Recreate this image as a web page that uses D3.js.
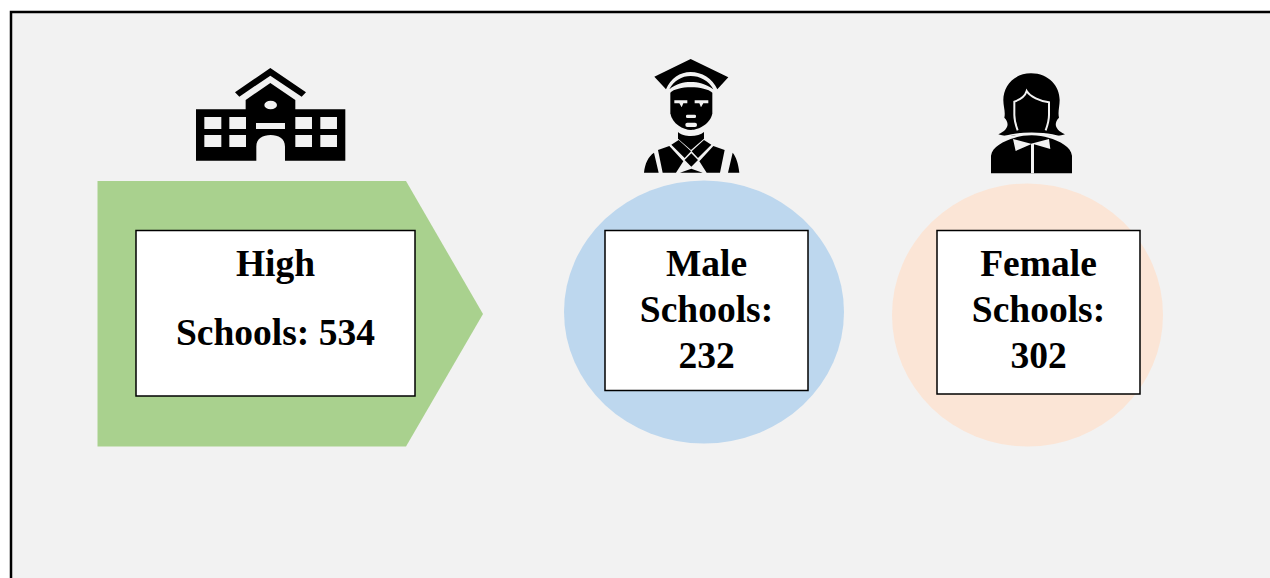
<!DOCTYPE html>
<html>
<head>
<meta charset="utf-8">
<script src="https://cdn.jsdelivr.net/npm/d3@7"></script>
<style>
  html, body { margin: 0; padding: 0; background: #fff; overflow: hidden; }
  text { font-family: "Liberation Serif", serif; font-weight: bold; fill: #000; }
</style>
</head>
<body>
<script>
const width = 1270;
const height = 578;
const bg = '#f2f2f2';

// what the graphic says
const categories = ['High Schools', 'Male Schools', 'Female Schools'];
const counts = [534, 232, 302];
const labelLines = [
  ['High', `Schools: ${counts[0]}`],
  ['Male', 'Schools:', `${counts[1]}`],
  ['Female', 'Schools:', `${counts[2]}`]
];

const svg = d3
  .select('body')
  .append('svg')
  .attr('width', width)
  .attr('height', height)
  .style('display', 'block');

// frame runs off the right and bottom of the page
svg
  .append('rect')
  .attr('x', 11)
  .attr('y', 12)
  .attr('width', width + 20)
  .attr('height', height + 20)
  .attr('fill', bg)
  .attr('stroke', '#000')
  .attr('stroke-width', 2.5);

// backing shapes
const line = d3.line();
svg
  .append('path')
  .attr('d', line([[97.5, 181], [406, 181], [483, 314], [406, 446.5], [97.5, 446.5]]) + 'Z')
  .attr('fill', '#a9d18e');

svg
  .append('ellipse')
  .attr('cx', 704)
  .attr('cy', 312)
  .attr('rx', 140)
  .attr('ry', 131.5)
  .attr('fill', '#bdd7ee');

svg
  .append('ellipse')
  .attr('cx', 1027.5)
  .attr('cy', 315)
  .attr('rx', 135.5)
  .attr('ry', 131.5)
  .attr('fill', '#fbe5d6');

// label boxes
const boxes = [
  { x: 136, y: 230.5, w: 279, h: 165.5, cx: 275.5, base: [276, 345] },
  { x: 605, y: 230.5, w: 203, h: 160, cx: 706.5, base: [276, 322, 368] },
  { x: 937, y: 230.5, w: 203, h: 163.5, cx: 1038.5, base: [276, 322, 368] }
];

const box = svg
  .selectAll('.box')
  .data(categories)
  .enter()
  .append('g')
  .attr('class', 'box');

box
  .append('rect')
  .attr('x', (d, i) => boxes[i].x)
  .attr('y', (d, i) => boxes[i].y)
  .attr('width', (d, i) => boxes[i].w)
  .attr('height', (d, i) => boxes[i].h)
  .attr('fill', '#fff')
  .attr('stroke', '#000')
  .attr('stroke-width', 1.5);

box.each(function(d, i) {
  d3.select(this)
    .selectAll('text')
    .data(labelLines[i])
    .enter()
    .append('text')
    .attr('x', boxes[i].cx)
    .attr('y', (t, j) => boxes[i].base[j])
    .attr('text-anchor', 'middle')
    .attr('font-size', 37.5)
    .text((t) => t);
});

// icons, traced at 3x and scaled down
const school = svg.append('g').attr('transform', 'translate(180,55) scale(0.3333)');
school
  .append('path')
  .attr('d', 'M165,112 L271,39 L378,112 L365,125 L271,62 L178,125 Z');
school
  .append('path')
  .attr('fill-rule', 'evenodd')
  .attr('d', 'M48,163 H197 V135 L271,84 L346,135 V163 H496 V317 H315 V275 C315,250 295,240 272,240 C249,240 229,250 229,275 V317 H48 Z'
    + 'M73,186 H124 V222 H73 Z M148,186 H198 V222 H148 Z M73,240 H124 V276 H73 Z M148,240 H198 V276 H148 Z'
    + 'M346,186 H396 V222 H346 Z M421,186 H471 V222 H421 Z M346,240 H396 V276 H346 Z M421,240 H471 V276 H421 Z'
    + 'M228,204 H315 V222 H228 Z'
    + 'M253,150 A19,13 0 1 0 291,150 A19,13 0 1 0 253,150 Z');

const graduate = svg.append('g').attr('transform', 'translate(630,50) scale(0.3333)');
graduate
  .append('path')
  .attr('d', 'M73,80 L182,27 L295,82 L262,118 C248,85 215,66 182,66 C150,66 122,85 108,118 Z');
graduate
  .append('path')
  .attr('d', 'M118,118 C132,92 155,78 182,78 C210,78 236,92 250,118 C225,100 205,96 182,96 C160,96 140,100 118,118 Z');
graduate
  .append('path')
  .attr('d', 'M121,128 C140,106 225,106 247,128 V190 C242,222 205,240 183,240 C160,240 126,222 121,190 Z');
graduate
  .append('path')
  .attr('fill', bg)
  .attr('d', 'M133,151 H172 V160 H160 L155,172 L148,160 H133 Z M194,151 H235 V160 H220 L213,172 L208,160 H194 Z');
graduate
  .append('rect')
  .attr('x', 168).attr('y', 194).attr('width', 30).attr('height', 10).attr('rx', 4)
  .attr('fill', bg);
graduate
  .append('rect')
  .attr('x', 166).attr('y', 218).attr('width', 35).attr('height', 13).attr('rx', 6)
  .attr('fill', bg);
graduate
  .append('path')
  .attr('d', 'M144,246 C160,262 205,262 222,246 V266 L183,300 L144,266 Z');
graduate
  .append('path')
  .attr('d', 'M42,368 C45,340 55,320 72,308 L86,368 Z'
    + 'M294,368 L308,308 C318,320 325,340 328,368 Z'
    + 'M84,300 L118,288 L160,334 L138,368 H98 Z'
    + 'M284,300 L250,288 L208,334 L230,368 H270 Z'
    + 'M124,284 L146,270 L183,304 L164,324 Z'
    + 'M244,284 L222,270 L185,304 L204,324 Z'
    + 'M184,310 L204,330 L184,350 L164,330 Z'
    + 'M150,368 L184,356 L218,368 Z');

const female = svg.append('g').attr('transform', 'translate(975,65) scale(0.3333)');
female
  .append('path')
  .attr('d', 'M168,25 C115,25 85,65 85,105 C85,125 92,140 88,158 C105,175 100,195 70,208 C100,218 125,210 135,205 H205 C215,210 240,218 270,208 C240,195 235,175 252,158 C248,140 254,125 254,105 C254,65 222,25 168,25 Z');
// outline of the face, open at the chin
female
  .append('path')
  .attr('d', 'M128,196 C122,180 118,165 118,150 V110 C138,103 150,95 155,78 C165,95 195,108 222,112 V150 C222,165 218,180 212,196')
  .attr('fill', 'none')
  .attr('stroke', bg)
  .attr('stroke-width', 6);
female
  .append('path')
  .attr('d', 'M48,325 V272 C52,245 85,228 120,218 C145,208 195,208 220,218 C255,228 288,245 291,272 V325 Z');
female
  .append('path')
  .attr('d', 'M66,226 C110,198 230,198 274,226')
  .attr('fill', 'none')
  .attr('stroke', bg)
  .attr('stroke-width', 5);
female
  .append('path')
  .attr('fill', bg)
  .attr('d', 'M114,222 L168,236 L222,222 L226,252 L177,238 V325 H168 V238 L122,258 Z');
</script>
</body>
</html>
